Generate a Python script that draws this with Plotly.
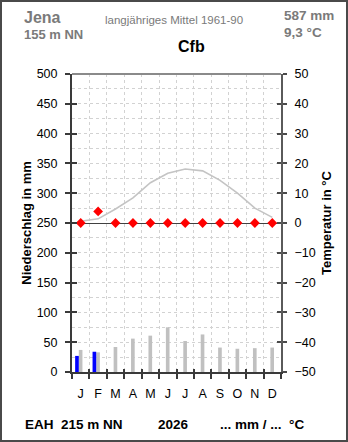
import plotly.graph_objects as go

# --- data -----------------------------------------------------------------
months = ["J", "F", "M", "A", "M", "J", "J", "A", "S", "O", "N", "D"]
month_pos = list(range(1, 13))

# long-term mean 1961-90 (Jena)
precip_mean = [37, 33, 42, 56, 61, 75, 52, 63, 41, 39, 40, 41]        # mm
temp_mean = [0.6, 1.4, 4.7, 8.4, 13.5, 16.7, 18.1, 17.5, 14.3, 10.0, 5.0, 1.9]  # °C

# current year 2026 (EAH station)
precip_2026 = [27, 34]                                               # mm, Jan-Feb
temp_2026 = [0.0, 3.9, 0, 0, 0, 0, 0, 0, 0, 0, 0, 0]                 # °C

precip_ticks = list(range(0, 501, 50))
temp_ticks = list(range(-50, 51, 10))
month_edges = [m + 0.5 for m in range(0, 13)]

# --- layout geometry ------------------------------------------------------
W, H = 348, 442
ML, MR, MT, MB = 72, 67, 74, 70
PW, PH = W - ML - MR, H - MT - MB


def px(x):
    return (x - ML) / PW


def py(y):
    return (H - MB - y) / PH


FONT = "Liberation Sans, Arial, sans-serif"
GREY_TXT = "#7a7a7a"
GRID = "#d2d2d2"

fig = go.Figure()

fig.add_trace(go.Bar(
    x=month_pos, y=precip_mean, width=0.21, offset=-0.11,
    marker=dict(color="#c0c0c0", line=dict(width=0)), yaxis="y",
    hoverinfo="skip"))
fig.add_trace(go.Bar(
    x=month_pos[:len(precip_2026)], y=precip_2026, width=0.21, offset=-0.32,
    marker=dict(color="#0000ff", line=dict(width=0)), yaxis="y",
    hoverinfo="skip"))
fig.add_trace(go.Scatter(
    x=month_pos, y=temp_mean, mode="lines", yaxis="y2",
    line=dict(color="#c4c4c4", width=1.6), hoverinfo="skip"))
fig.add_trace(go.Scatter(
    x=month_pos, y=temp_2026, mode="markers", yaxis="y2",
    marker=dict(symbol="diamond", size=7.5, color="#ff0000",
                line=dict(width=0)), hoverinfo="skip"))

# empty traces so the inner-tick axes get drawn
fig.add_trace(go.Scatter(x=[None], y=[None], xaxis="x2", yaxis="y3",
                         hoverinfo="skip"))
fig.add_trace(go.Scatter(x=[None], y=[None], xaxis="x2", yaxis="y4",
                         hoverinfo="skip"))

tick_font = dict(family=FONT, size=12.5, color="#000")

fig.update_layout(
    width=W, height=H,
    margin=dict(l=ML, r=MR, t=MT, b=MB, pad=0),
    paper_bgcolor="white", plot_bgcolor="white",
    showlegend=False, barmode="overlay",
    xaxis=dict(
        range=[0.5, 12.5], tickvals=month_pos, ticktext=months,
        ticks="", showgrid=False, zeroline=False,
        showline=True, linecolor="#3a3a3a", linewidth=2,
        tickfont=tick_font, ticklabelstandoff=9,
        minor=dict(tickvals=month_edges, ticks="outside", ticklen=5,
                   tickwidth=1.5, tickcolor="#3a3a3a",
                   showgrid=True, gridcolor=GRID, griddash="dot",
                   gridwidth=1),
    ),
    xaxis2=dict(
        range=[0.5, 12.5], overlaying="x", side="bottom", anchor="y",
        tickvals=month_edges, ticks="inside", ticklen=3, tickwidth=1.5,
        tickcolor="#3a3a3a", showticklabels=False, showgrid=False,
        zeroline=False, showline=False,
    ),
    yaxis=dict(
        range=[0, 500], tickvals=precip_ticks, ticks="outside", ticklen=5,
        tickwidth=1.5, tickcolor="#3a3a3a",
        showline=True, linecolor="#3a3a3a", linewidth=2,
        showgrid=True, gridcolor=GRID, griddash="dot", gridwidth=1,
        zeroline=False, tickfont=tick_font, ticklabelstandoff=5,
        minor=dict(dtick=25, showgrid=True, gridcolor=GRID,
                   griddash="dot", gridwidth=1),
        title=dict(text="<b>Niederschlag in mm</b>", standoff=2,
                   font=dict(family=FONT, size=13, color="#000")),
    ),
    yaxis2=dict(
        range=[-50, 50], tickvals=temp_ticks, overlaying="y", side="right",
        anchor="x", ticks="outside", ticklen=4, tickwidth=1.5,
        tickcolor="#4a4a4a", showline=True, linecolor="#5a5a5a",
        linewidth=2, showgrid=False,
        zeroline=True, zerolinecolor="#404040", zerolinewidth=1,
        tickfont=tick_font, ticklabelstandoff=5,
        title=dict(text="<b>Temperatur in °C</b>", standoff=7,
                   font=dict(family=FONT, size=13, color="#000")),
    ),
    yaxis3=dict(
        range=[0, 500], tickvals=precip_ticks, overlaying="y", side="left",
        anchor="x2", ticks="inside", ticklen=5, tickwidth=1.5,
        tickcolor="#3a3a3a", showticklabels=False, showgrid=False,
        zeroline=False, showline=False,
    ),
    yaxis4=dict(
        range=[-50, 50], tickvals=temp_ticks, overlaying="y", side="right",
        anchor="x2", ticks="inside", ticklen=4, tickwidth=1.5,
        tickcolor="#4a4a4a", showticklabels=False, showgrid=False,
        zeroline=False, showline=False,
    ),
)

# top border of the plot area and the frame around the whole chart
fig.add_shape(type="line", xref="paper", yref="paper", x0=0, x1=1, y0=1, y1=1,
              line=dict(color="#8a8a8a", width=2), layer="above")
fig.add_shape(type="rect", xref="paper", yref="paper",
              x0=px(1), x1=px(W - 1), y0=py(H - 1), y1=py(1),
              line=dict(color="#4a4a4a", width=2), layer="above")


def note(text, x, y, size, color="#000", bold=True, xanchor="left"):
    fig.add_annotation(
        text=f"<b>{text}</b>" if bold else text, xref="paper", yref="paper",
        x=px(x), y=py(y), xanchor=xanchor, yanchor="middle", showarrow=False,
        font=dict(family=FONT, size=size, color=color))


note("Jena", 22, 17, 16, GREY_TXT)
note("155 m NN", 22, 34.5, 13, GREY_TXT)
note("langjähriges Mittel 1961-90", 173.5, 20.5, 11.5, GREY_TXT,
     bold=False, xanchor="center")
note("587 mm", 282, 16, 13.5, GREY_TXT)
note("9,3 °C", 282, 33, 13.5, GREY_TXT)
note("Cfb", 175.5, 47, 16)
note("EAH \u00a0215 m NN", 23, 424, 13.5)
note("2026", 155.5, 424, 13.5)
note("... mm / ... \u00a0°C", 218, 424, 13.5)

fig.write_html("out.html")
